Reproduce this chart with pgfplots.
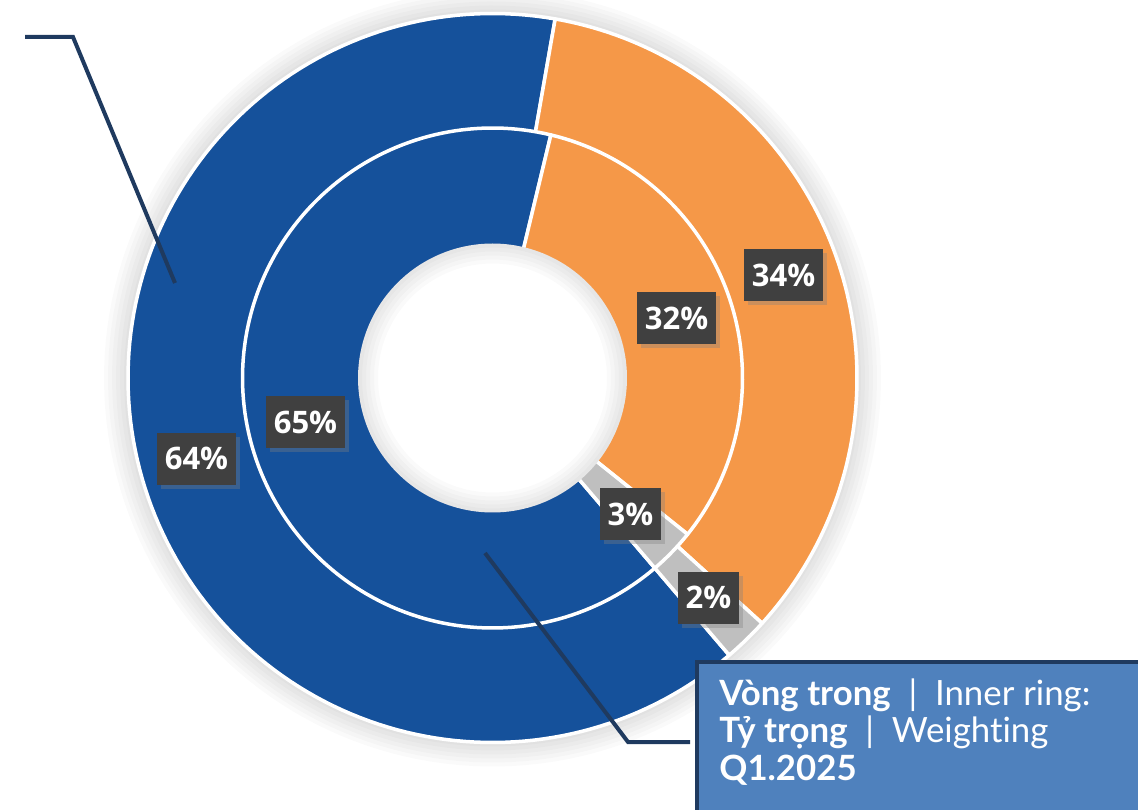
\documentclass[border=0pt]{standalone}
\usepackage{pgfplots}
\pgfplotsset{compat=1.18}
\usepackage{pgfplotstable}
\usetikzlibrary{shadows}
\usepackage{fontspec}
\setmainfont{Lato}[Ligatures={NoCommon}]
\newfontfamily\labfont{Open Sans}
\definecolor{cblue}{HTML}{15519B}
\definecolor{corange}{HTML}{F59848}
\definecolor{cgrey}{HTML}{BFBFBF}
\definecolor{cbox}{HTML}{404040}
\definecolor{cline}{HTML}{1F3A5F}
\definecolor{cnote}{HTML}{4F81BD}

% shares (%) : outer ring and inner ring (weighting Q1.2025)
\pgfplotstableread{
ring  blue orange grey
outer 64   34     2
inner 65   32     3
}\shares
\pgfplotstablegetelem{0}{blue}\of\shares   \let\oB\pgfplotsretval
\pgfplotstablegetelem{0}{orange}\of\shares \let\oO\pgfplotsretval
\pgfplotstablegetelem{0}{grey}\of\shares   \let\oG\pgfplotsretval
\pgfplotstablegetelem{1}{blue}\of\shares   \let\iB\pgfplotsretval
\pgfplotstablegetelem{1}{orange}\of\shares \let\iO\pgfplotsretval
\pgfplotstablegetelem{1}{grey}\of\shares   \let\iG\pgfplotsretval

% geometry (pixel units, y upwards)
\def\cx{492.5}
\def\cy{431}
\def\Ro{364.5}
\def\Rm{250}
\def\Ri{134.5}
\def\start{139.5}
\pgfmathsetmacro{\oa}{\start}
\pgfmathsetmacro{\ob}{\oa+3.6*\oB}
\pgfmathsetmacro{\oc}{\ob+3.6*\oO}
\pgfmathsetmacro{\od}{\oc+3.6*\oG}
\pgfmathsetmacro{\ia}{\start}
\pgfmathsetmacro{\ib}{\ia+3.6*\iB}
\pgfmathsetmacro{\ic}{\ib+3.6*\iO}
\pgfmathsetmacro{\id}{\ic+3.6*\iG}

\begin{document}
\begin{tikzpicture}
\begin{axis}[
  scale only axis, width=569pt, height=404.5pt,
  xmin=0, xmax=1138, ymin=0, ymax=809,
  hide axis, clip=false,
]
% soft glow around the ring
\pgfplotsinvokeforeach{4,8,12,16,20,24}{
  \addplot[draw=black, draw opacity=0.02, line width=#1*0.5pt, domain=0:360, samples=180, variable=\t, no markers]
   ({\cx+(\Ro+#1/2)*sin(\t)},{\cy+(\Ro+#1/2)*cos(\t)}) -- cycle;
}
% outer ring sectors
\addplot[fill=cblue, draw=white, line width=1.75pt, line join=round, domain=\oa:\ob, samples=150, variable=\t, no markers]
  ({\cx+\Ro*sin(\t)},{\cy+\Ro*cos(\t)}) -- (axis cs:\cx,\cy) -- cycle;
\addplot[fill=corange, draw=white, line width=1.75pt, line join=round, domain=\ob:\oc, samples=100, variable=\t, no markers]
  ({\cx+\Ro*sin(\t)},{\cy+\Ro*cos(\t)}) -- (axis cs:\cx,\cy) -- cycle;
\addplot[fill=cgrey, draw=white, line width=1.75pt, line join=round, domain=\oc:\od, samples=20, variable=\t, no markers]
  ({\cx+\Ro*sin(\t)},{\cy+\Ro*cos(\t)}) -- (axis cs:\cx,\cy) -- cycle;
% inner ring sectors
\addplot[fill=cblue, draw=white, line width=1.75pt, line join=round, domain=\ia:\ib, samples=150, variable=\t, no markers]
  ({\cx+\Rm*sin(\t)},{\cy+\Rm*cos(\t)}) -- (axis cs:\cx,\cy) -- cycle;
\addplot[fill=corange, draw=white, line width=1.75pt, line join=round, domain=\ib:\ic, samples=100, variable=\t, no markers]
  ({\cx+\Rm*sin(\t)},{\cy+\Rm*cos(\t)}) -- (axis cs:\cx,\cy) -- cycle;
\addplot[fill=cgrey, draw=white, line width=1.75pt, line join=round, domain=\ic:\id, samples=20, variable=\t, no markers]
  ({\cx+\Rm*sin(\t)},{\cy+\Rm*cos(\t)}) -- (axis cs:\cx,\cy) -- cycle;
% hole
\addplot[fill=white, draw=none, domain=0:360, samples=180, variable=\t, no markers]
  ({\cx+\Ri*sin(\t)},{\cy+\Ri*cos(\t)}) -- cycle;
\pgfplotsinvokeforeach{4,8,12,16,20}{
  \addplot[draw=black, draw opacity=0.018, line width=#1*0.5pt, domain=0:360, samples=180, variable=\t, no markers]
   ({\cx+(\Ri-#1/2)*sin(\t)},{\cy+(\Ri-#1/2)*cos(\t)}) -- cycle;
}
% leader lines
\addplot[cline, line width=2pt, no markers] coordinates {(25,772) (73,772) (175,526)};
\addplot[cline, line width=2pt, no markers] coordinates {(485,256) (628,67) (690,67)};
% data labels
\addplot[draw=none, no markers, nodes near coords, point meta=explicit symbolic,
  every node near coord/.append style={anchor=center, fill=cbox, text=white,
    font=\labfont\bfseries\fontsize{15.5pt}{15.5pt}\selectfont,
    minimum height=26pt, inner xsep=3.9pt,
    drop shadow={shadow xshift=2pt, shadow yshift=-2pt, opacity=0.35}}]
  coordinates {
  (196.5,350.5) [64\%]
  (305.5,387)   [65\%]
  (676.5,491)   [32\%]
  (783.5,533.5) [34\%]
  (630.5,295)   [3\%]
  (708.5,211.5) [2\%]
  };
% annotation box
\filldraw[fill=cnote, draw=cline, line width=2pt] (axis cs:697,-6) rectangle (axis cs:1146,147);
\node[anchor=base west, text=white, font=\fontsize{17.4pt}{17.4pt}\selectfont, inner sep=0pt] at (axis cs:719,104) {\textbf{Vòng trong}\ \ |\ \ Inner ring:};
\node[anchor=base west, text=white, font=\fontsize{17.4pt}{17.4pt}\selectfont, inner sep=0pt] at (axis cs:719,67) {\textbf{Tỷ trọng}\ \ |\ \ Weighting};
\node[anchor=base west, text=white, font=\fontsize{17.4pt}{17.4pt}\selectfont, inner sep=0pt] at (axis cs:719,29) {\textbf{Q1.2025}};
\end{axis}
\pgfresetboundingbox
\path[use as bounding box] (current axis.south west) rectangle (current axis.north east);
\end{tikzpicture}
\end{document}
